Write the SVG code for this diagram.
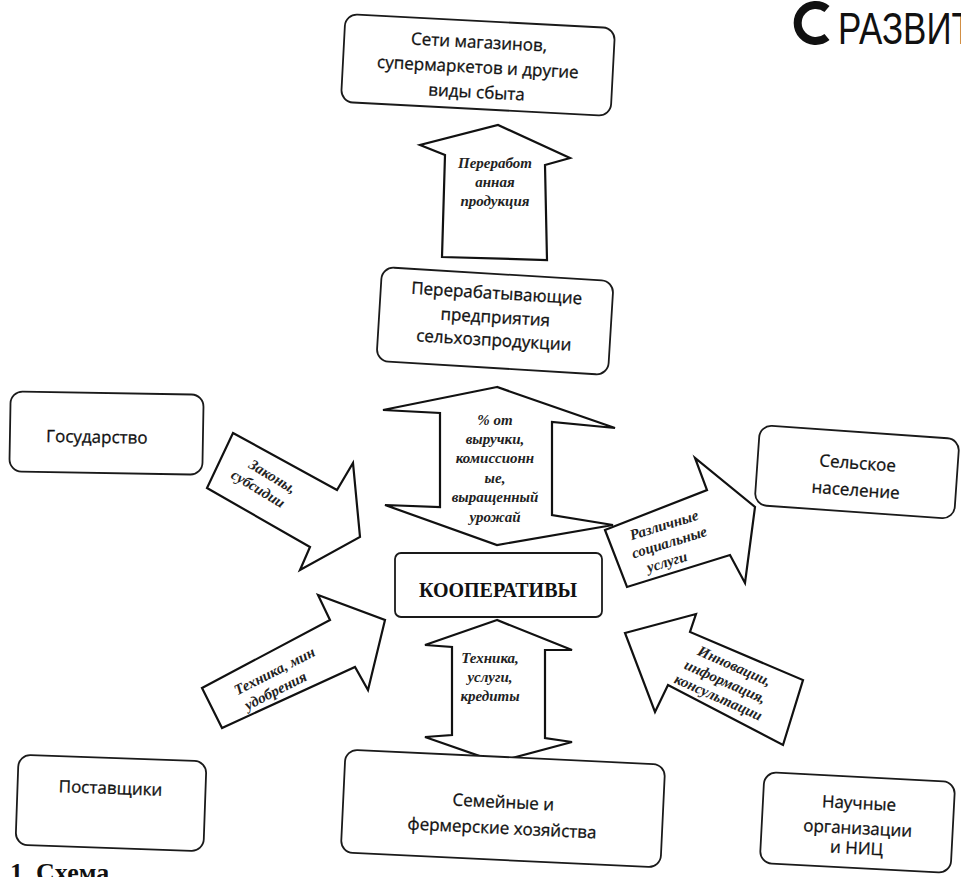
<svg xmlns="http://www.w3.org/2000/svg" width="961" height="877" viewBox="0 0 961 877">
<style>
.box{fill:#fff;stroke:#1a1a1a;stroke-width:1.8}
.arr{fill:#fff;stroke:#111;stroke-width:2.2;stroke-linejoin:miter}
.t{font-family:"Open Sans","Noto Sans",sans-serif;font-size:17px;fill:#111;stroke:#111;stroke-width:0.3;text-anchor:middle}
.a{font-family:"Liberation Serif",serif;font-size:15px;font-weight:bold;font-style:italic;fill:#222;text-anchor:middle}
.k{font-family:"Liberation Serif",serif;font-size:20px;font-weight:bold;fill:#111;text-anchor:middle}
</style>
<rect width="961" height="877" fill="#fff"/>
<g id="logo">
<path d="M827 9 A18 18 0 1 0 827 37" fill="none" stroke="#111" stroke-width="8"/>
<text transform="translate(838 44) scale(1 1.25)" x="0" y="0" font-family="Liberation Sans,Arial,sans-serif" font-size="35" fill="#111">РАЗВИТ</text>
</g>
<g id="connectors">
<g id="arrow-up">
<polygon class="arr" points="442,257 445,155 420,145 498,125 570,158 545,165 547,260"/>
<text class="a" x="495" y="168">Переработ</text>
<text class="a" x="495" y="187">анная</text>
<text class="a" x="495" y="206">продукция</text>
</g>
<g id="arrow-mid">
<polygon class="arr" points="497,387 383,410 440,413 440,507 385,505 497,545 613,525 552,515 552,422 615,428"/>
<text class="a" x="495" y="425">% от</text>
<text class="a" x="495" y="444">выручки,</text>
<text class="a" x="495" y="463">комиссионн</text>
<text class="a" x="495" y="483">ые,</text>
<text class="a" x="495" y="502">выращенный</text>
<text class="a" x="495" y="522">урожай</text>
</g>
<g id="arrow-low">
<polygon class="arr" points="497,620 425,645 452,647 452,735 425,737 497,762 572,742 545,738 545,650 572,650"/>
<text class="a" x="490" y="663">Техника,</text>
<text class="a" x="490" y="682">услуги,</text>
<text class="a" x="490" y="701">кредиты</text>
</g>
<g id="arrow-gos">
<polygon class="arr" points="233,433 337,490 353,463 360,537 300,570 310,547 207,488"/>
<g transform="rotate(31 268 484)">
<text class="a" x="268" y="480">Законы,</text>
<text class="a" x="262" y="498">субсидии</text>
</g>
</g>
<g id="arrow-post">
<polygon class="arr" points="222,728 202,688 330,620 318,595 385,620 368,690 355,667"/>
<g transform="rotate(-27 275 683)">
<text class="a" x="280" y="677">Техника, мин</text>
<text class="a" x="272" y="695">удобрения</text>
</g>
</g>
<g id="arrow-sel">
<polygon class="arr" points="605,530 707,490 695,458 755,507 745,583 730,555 627,587"/>
<g transform="rotate(-17 667 545)">
<text class="a" x="670" y="530">Различные</text>
<text class="a" x="670" y="548">социальные</text>
<text class="a" x="662" y="566">услуги</text>
</g>
</g>
<g id="arrow-nauch">
<polygon class="arr" points="625,633 696,614 690,632 803,680 783,745 668,685 655,712"/>
<g transform="rotate(24 724 682)">
<text class="a" x="727" y="668">Инновации,</text>
<text class="a" x="725" y="686">информация,</text>
<text class="a" x="725" y="703">консультации</text>
</g>
</g>
</g>
<g id="node-seti" transform="rotate(3 478 65)">
<rect class="box" x="343" y="21" width="270" height="88" rx="12"/>
<text class="t" x="478" y="48">Сети магазинов,</text>
<text class="t" x="478" y="73">супермаркетов и другие</text>
<text class="t" x="478" y="98">виды сбыта</text>
</g>
<g id="node-pererab" transform="rotate(3.5 495 321)">
<rect class="box" x="379" y="274" width="232" height="94" rx="12"/>
<text class="t" x="495" y="299">Перерабатывающие</text>
<text class="t" x="495" y="323">предприятия</text>
<text class="t" x="495" y="346">сельхозпродукции</text>
</g>
<g id="node-gos" transform="rotate(1 106 433)">
<rect class="box" x="10" y="393" width="193" height="80" rx="12"/>
<text class="t" x="97" y="443">Государство</text>
</g>
<g id="node-selsk" transform="rotate(4 857 472)">
<rect class="box" x="757" y="432" width="200" height="80" rx="12"/>
<text class="t" x="857" y="469">Сельское</text>
<text class="t" x="857" y="496">население</text>
</g>
<g id="node-koop">
<rect class="box" x="395" y="553" width="207" height="64" rx="6"/>
<text class="k" x="498" y="597">КООПЕРАТИВЫ</text>
</g>
<g id="node-post" transform="rotate(2 111 803)">
<rect class="box" x="17" y="758" width="188" height="90" rx="12"/>
<text class="t" x="110" y="794">Поставщики</text>
</g>
<g id="node-sem" transform="rotate(2.7 503 808)">
<rect class="box" x="343" y="757" width="320" height="103" rx="12"/>
<text class="t" x="503" y="808">Семейные и</text>
<text class="t" x="503" y="834">фермерские хозяйства</text>
</g>
<g id="node-nauch" transform="rotate(3 857 822)">
<rect class="box" x="762" y="777" width="191" height="91" rx="12"/>
<text class="t" x="858" y="809">Научные</text>
<text class="t" x="858" y="834">организации</text>
<text class="t" x="858" y="854">и НИЦ</text>
</g>
<text x="10" y="881" font-family="Liberation Serif,serif" font-size="26" font-weight="bold" fill="#111">1. Схема</text>
</svg>
